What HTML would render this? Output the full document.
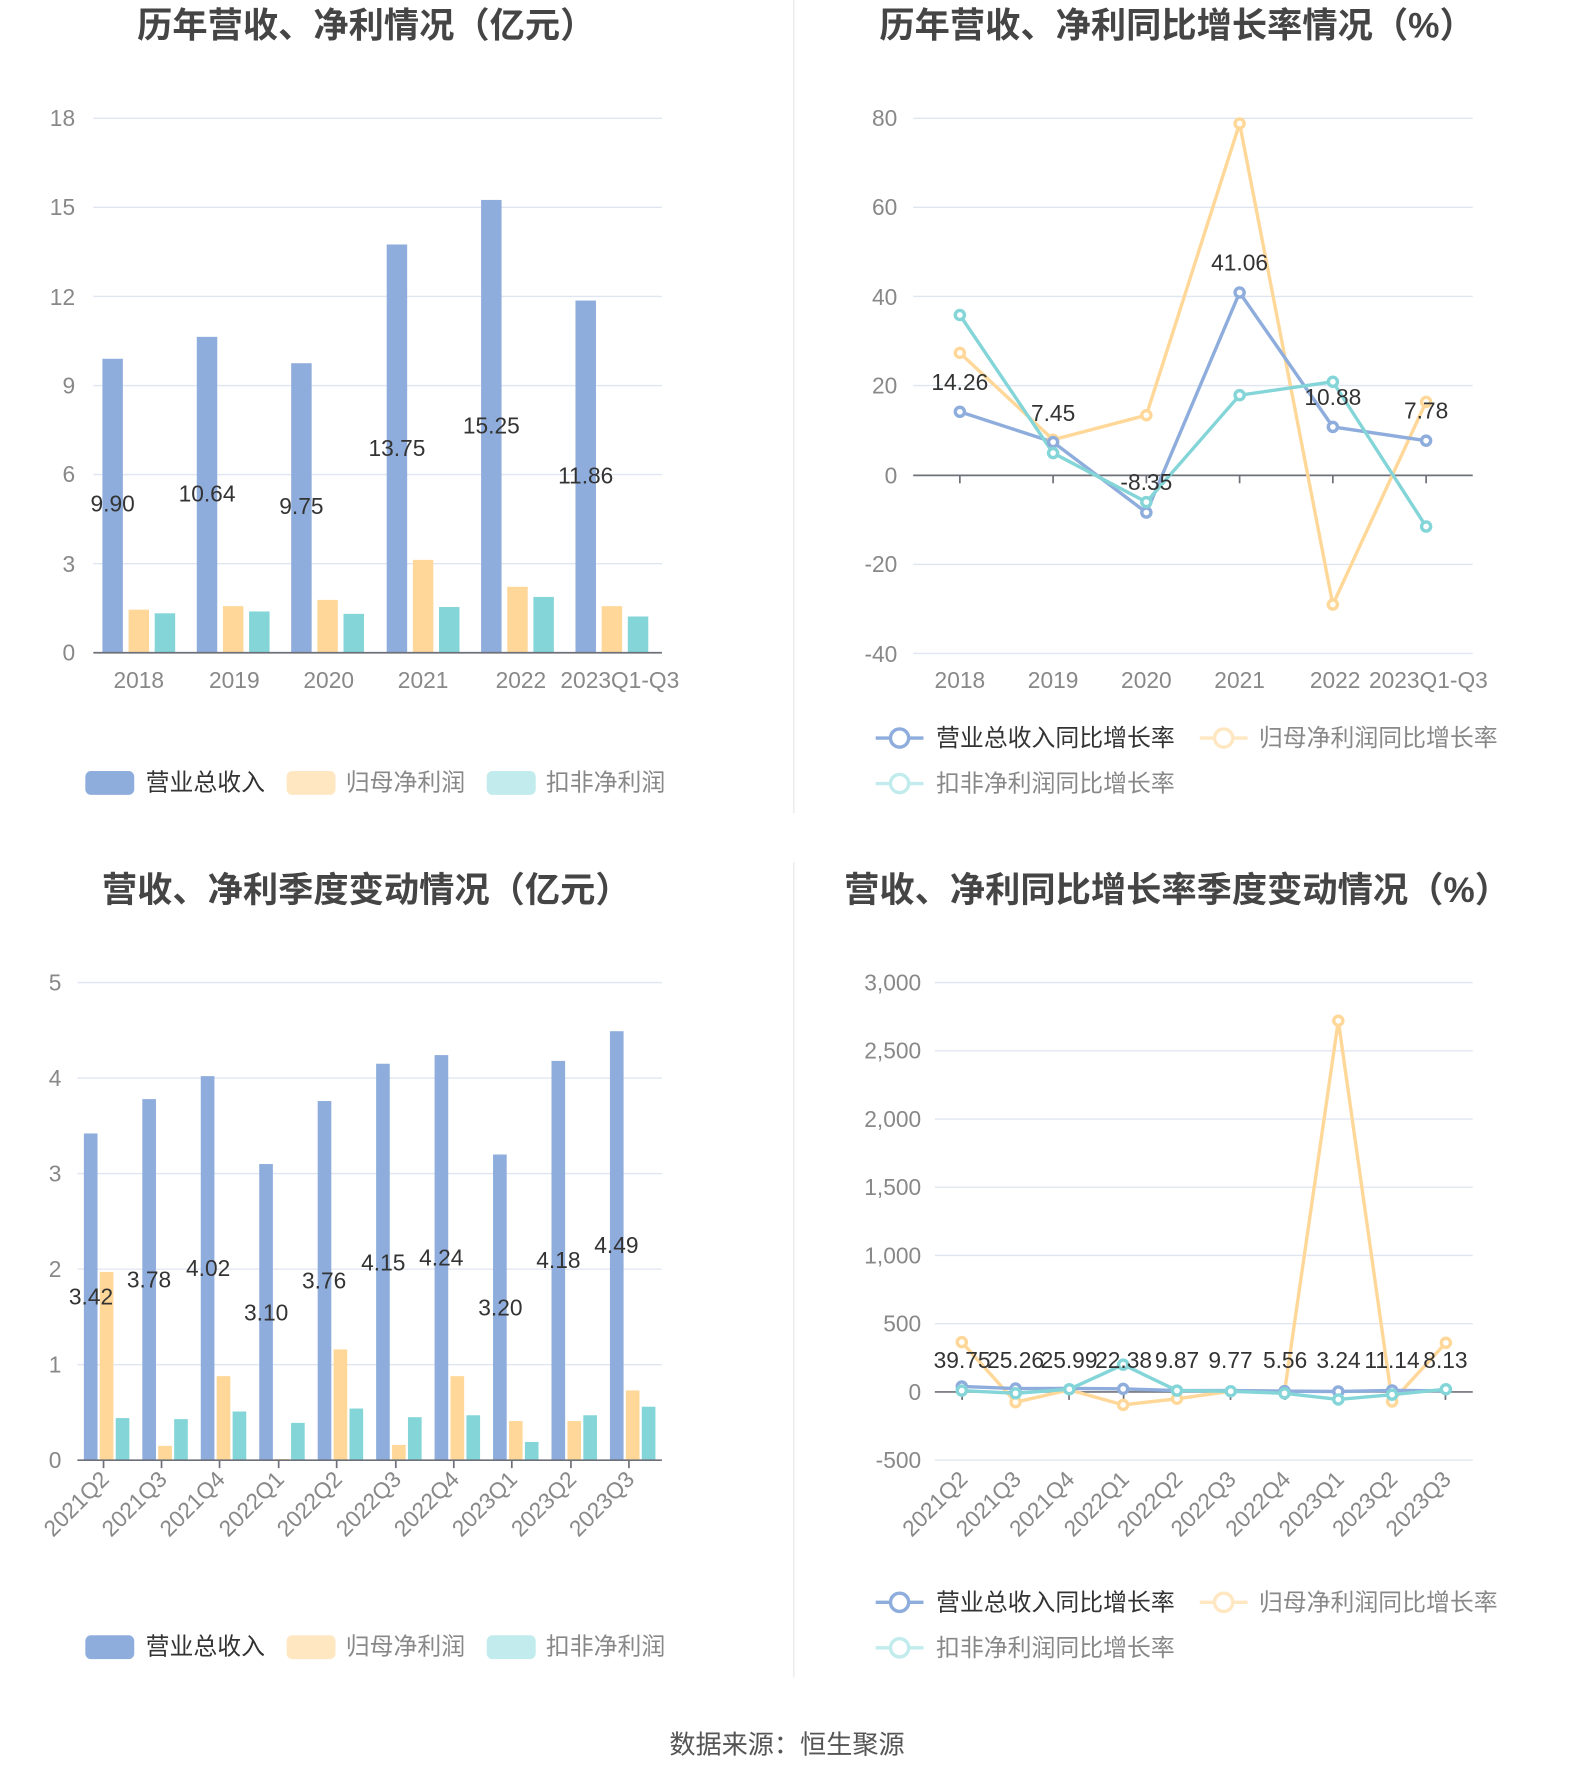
<!DOCTYPE html>
<html><head><meta charset="utf-8"><style>
html,body{margin:0;padding:0;background:#fff}
svg{display:block}
text{font-family:"Liberation Sans","Noto Sans CJK SC",sans-serif}
.t{font-size:31px;font-weight:bold;fill:#454545}
.ax{font-size:20px;fill:#888}
.v{font-size:20px;fill:#333}
.lg{font-size:21px;fill:#333}
.g{stroke:#e0e6f1;stroke-width:1.2}
.a{stroke:#6e7079;stroke-width:1.5}
</style></head><body>
<svg width="1574" height="1782" viewBox="0 0 1384 1567" xmlns="http://www.w3.org/2000/svg">
<rect width="1384" height="1567" fill="#fff"/>
<line x1="698" y1="0" x2="698" y2="715" stroke="#e6e6e6"/>
<line x1="698" y1="758" x2="698" y2="1475" stroke="#e6e6e6"/>

<!-- Chart 1 -->
<text class="t" x="322" y="33" text-anchor="middle">历年营收、净利情况（亿元）</text>
<g class="g"><line x1="82" y1="104" x2="582" y2="104"/><line x1="82" y1="182.3" x2="582" y2="182.3"/><line x1="82" y1="260.7" x2="582" y2="260.7"/><line x1="82" y1="339" x2="582" y2="339"/><line x1="82" y1="417.3" x2="582" y2="417.3"/><line x1="82" y1="495.7" x2="582" y2="495.7"/></g>
<g class="ax" text-anchor="end"><text x="66" y="111">18</text><text x="66" y="189">15</text><text x="66" y="268">12</text><text x="66" y="346">9</text><text x="66" y="424">6</text><text x="66" y="503">3</text><text x="66" y="581">0</text></g>
<g fill="#8eaddc"><rect x="90" y="315.5" width="18" height="258.5"/><rect x="173" y="296.2" width="18" height="277.8"/><rect x="256" y="319.4" width="18" height="254.6"/><rect x="340" y="215" width="18" height="359"/><rect x="423" y="175.8" width="18" height="398.2"/><rect x="506" y="264.3" width="18" height="309.7"/></g>
<g fill="#ffd899"><rect x="113" y="536.1" width="18" height="37.9"/><rect x="196" y="533" width="18" height="41"/><rect x="279" y="527.5" width="18" height="46.5"/><rect x="363" y="492.3" width="18" height="81.7"/><rect x="446" y="516" width="18" height="58"/><rect x="529" y="533" width="18" height="41"/></g>
<g fill="#84d5d8"><rect x="136" y="539.3" width="18" height="34.7"/><rect x="219" y="537.7" width="18" height="36.3"/><rect x="302" y="539.8" width="18" height="34.2"/><rect x="386" y="533.8" width="18" height="40.2"/><rect x="469" y="524.9" width="18" height="49.1"/><rect x="552" y="542.1" width="18" height="31.9"/></g>
<line class="a" x1="82" y1="574" x2="582" y2="574"/>
<g class="v" text-anchor="middle"><text x="99" y="450">9.90</text><text x="182" y="441">10.64</text><text x="265" y="452">9.75</text><text x="349" y="401">13.75</text><text x="432" y="381">15.25</text><text x="515" y="425">11.86</text></g>
<g class="ax" text-anchor="middle"><text x="122" y="605">2018</text><text x="206" y="605">2019</text><text x="289" y="605">2020</text><text x="372" y="605">2021</text><text x="458" y="605">2022</text><text x="545" y="605">2023Q1-Q3</text></g>
<rect x="75" y="678" width="43" height="21" rx="5" fill="#8eaddc"/><text class="lg" x="128" y="695">营业总收入</text>
<rect x="252" y="678" width="43" height="21" rx="5" fill="#ffe7c2"/><text class="lg" x="304" y="695" style="fill:#888">归母净利润</text>
<rect x="428" y="678" width="43" height="21" rx="5" fill="#c1ebec"/><text class="lg" x="480" y="695" style="fill:#888">扣非净利润</text>

<!-- Chart 2 -->
<text class="t" x="1035" y="33" text-anchor="middle">历年营收、净利同比增长率情况（%）</text>
<g class="g"><line x1="803" y1="104" x2="1295" y2="104"/><line x1="803" y1="182.3" x2="1295" y2="182.3"/><line x1="803" y1="260.7" x2="1295" y2="260.7"/><line x1="803" y1="339" x2="1295" y2="339"/><line x1="803" y1="496.3" x2="1295" y2="496.3"/><line x1="803" y1="574.6" x2="1295" y2="574.6"/></g>
<g class="ax" text-anchor="end"><text x="789" y="111">80</text><text x="789" y="189">60</text><text x="789" y="268">40</text><text x="789" y="346">20</text><text x="789" y="425">0</text><text x="789" y="503">-20</text><text x="789" y="582">-40</text></g>
<line class="a" x1="803" y1="418" x2="1295" y2="418"/>
<g class="a"><line x1="844" y1="418" x2="844" y2="425"/><line x1="926" y1="418" x2="926" y2="425"/><line x1="1008" y1="418" x2="1008" y2="425"/><line x1="1090" y1="418" x2="1090" y2="425"/><line x1="1172" y1="418" x2="1172" y2="425"/><line x1="1254" y1="418" x2="1254" y2="425"/></g>
<g fill="#fff" stroke-width="3">
<polyline fill="none" stroke="#ffd899" points="844,310.3 926,386.7 1008,365.1 1090,108.6 1172,531.6 1254,353.4"/>
<polyline fill="none" stroke="#8eaddc" points="844,362.1 926,388.8 1008,450.7 1090,257.2 1172,375.4 1254,387.5"/>
<polyline fill="none" stroke="#84d5d8" points="844,277 926,398.4 1008,441.5 1090,347.5 1172,335.7 1254,463"/>
<g stroke="#ffd899"><circle cx="844" cy="310.3" r="4"/><circle cx="926" cy="386.7" r="4"/><circle cx="1008" cy="365.1" r="4"/><circle cx="1090" cy="108.6" r="4"/><circle cx="1172" cy="531.6" r="4"/><circle cx="1254" cy="353.4" r="4"/></g>
<g stroke="#8eaddc"><circle cx="844" cy="362.1" r="4"/><circle cx="926" cy="388.8" r="4"/><circle cx="1008" cy="450.7" r="4"/><circle cx="1090" cy="257.2" r="4"/><circle cx="1172" cy="375.4" r="4"/><circle cx="1254" cy="387.5" r="4"/></g>
<g stroke="#84d5d8"><circle cx="844" cy="277" r="4"/><circle cx="926" cy="398.4" r="4"/><circle cx="1008" cy="441.5" r="4"/><circle cx="1090" cy="347.5" r="4"/><circle cx="1172" cy="335.7" r="4"/><circle cx="1254" cy="463" r="4"/></g>
</g>
<g class="v" text-anchor="middle"><text x="844" y="343">14.26</text><text x="926" y="370">7.45</text><text x="1008" y="431">-8.35</text><text x="1090" y="238">41.06</text><text x="1172" y="356">10.88</text><text x="1254" y="368">7.78</text></g>
<g class="ax" text-anchor="middle"><text x="844" y="605">2018</text><text x="926" y="605">2019</text><text x="1008" y="605">2020</text><text x="1090" y="605">2021</text><text x="1174" y="605">2022</text><text x="1256" y="605">2023Q1-Q3</text></g>
<g stroke-width="3" fill="#fff">
<line x1="770" y1="649" x2="812" y2="649" stroke="#8eaddc"/><circle cx="791" cy="649" r="8" stroke="#8eaddc"/>
<line x1="1055" y1="649" x2="1097" y2="649" stroke="#ffe7c2"/><circle cx="1076" cy="649" r="8" stroke="#ffe7c2"/>
<line x1="770" y1="689" x2="812" y2="689" stroke="#c1ebec"/><circle cx="791" cy="689" r="8" stroke="#c1ebec"/>
</g>
<text class="lg" x="823" y="656">营业总收入同比增长率</text><text class="lg" x="1107" y="656" style="fill:#888">归母净利润同比增长率</text><text class="lg" x="823" y="696" style="fill:#888">扣非净利润同比增长率</text>

<!-- Chart 3 -->
<text class="t" x="322" y="793" text-anchor="middle">营收、净利季度变动情况（亿元）</text>
<g class="g"><line x1="68" y1="864" x2="582" y2="864"/><line x1="68" y1="948" x2="582" y2="948"/><line x1="68" y1="1032" x2="582" y2="1032"/><line x1="68" y1="1116" x2="582" y2="1116"/><line x1="68" y1="1200" x2="582" y2="1200"/></g>
<g class="ax" text-anchor="end"><text x="54" y="871">5</text><text x="54" y="955">4</text><text x="54" y="1039">3</text><text x="54" y="1123">2</text><text x="54" y="1207">1</text><text x="54" y="1291">0</text></g>
<g fill="#8eaddc"><rect x="73.7" y="996.7" width="12" height="287.3"/><rect x="125.1" y="966.5" width="12" height="317.5"/><rect x="176.5" y="946.3" width="12" height="337.7"/><rect x="227.9" y="1023.6" width="12" height="260.4"/><rect x="279.3" y="968.2" width="12" height="315.8"/><rect x="330.7" y="935.4" width="12" height="348.6"/><rect x="382.1" y="927.8" width="12" height="356.2"/><rect x="433.5" y="1015.2" width="12" height="268.8"/><rect x="484.9" y="932.9" width="12" height="351.1"/><rect x="536.3" y="906.8" width="12" height="377.2"/></g>
<g fill="#ffd899"><rect x="87.7" y="1118.5" width="12" height="165.5"/><rect x="139.1" y="1271.4" width="12" height="12.6"/><rect x="190.5" y="1210.1" width="12" height="73.9"/><rect x="241.9" y="1283" width="12" height="1"/><rect x="293.3" y="1186.6" width="12" height="97.4"/><rect x="344.7" y="1270.6" width="12" height="13.4"/><rect x="396.1" y="1210.1" width="12" height="73.9"/><rect x="447.5" y="1249.6" width="12" height="34.4"/><rect x="498.9" y="1249.6" width="12" height="34.4"/><rect x="550.3" y="1222.7" width="12" height="61.3"/></g>
<g fill="#84d5d8"><rect x="101.7" y="1247" width="12" height="37"/><rect x="153.1" y="1247.9" width="12" height="36.1"/><rect x="204.5" y="1241.2" width="12" height="42.8"/><rect x="255.9" y="1251.2" width="12" height="32.8"/><rect x="307.3" y="1238.6" width="12" height="45.4"/><rect x="358.7" y="1246.2" width="12" height="37.8"/><rect x="410.1" y="1244.5" width="12" height="39.5"/><rect x="461.5" y="1268" width="12" height="16"/><rect x="512.9" y="1244.5" width="12" height="39.5"/><rect x="564.3" y="1237" width="12" height="47"/></g>
<line class="a" x1="68" y1="1284" x2="582" y2="1284"/>
<g class="a"><line x1="91" y1="1284" x2="91" y2="1291"/><line x1="142" y1="1284" x2="142" y2="1291"/><line x1="193" y1="1284" x2="193" y2="1291"/><line x1="245" y1="1284" x2="245" y2="1291"/><line x1="296" y1="1284" x2="296" y2="1291"/><line x1="348" y1="1284" x2="348" y2="1291"/><line x1="399" y1="1284" x2="399" y2="1291"/><line x1="450" y1="1284" x2="450" y2="1291"/><line x1="502" y1="1284" x2="502" y2="1291"/><line x1="553" y1="1284" x2="553" y2="1291"/></g>
<g class="v" text-anchor="middle"><text x="80" y="1147">3.42</text><text x="131" y="1132">3.78</text><text x="183" y="1122">4.02</text><text x="234" y="1161">3.10</text><text x="285" y="1133">3.76</text><text x="337" y="1117">4.15</text><text x="388" y="1113">4.24</text><text x="440" y="1157">3.20</text><text x="491" y="1115">4.18</text><text x="542" y="1102">4.49</text></g>
<g class="ax" text-anchor="end">
<text transform="translate(97,1302) rotate(-45)">2021Q2</text><text transform="translate(148,1302) rotate(-45)">2021Q3</text><text transform="translate(199,1302) rotate(-45)">2021Q4</text><text transform="translate(251,1302) rotate(-45)">2022Q1</text><text transform="translate(302,1302) rotate(-45)">2022Q2</text><text transform="translate(354,1302) rotate(-45)">2022Q3</text><text transform="translate(405,1302) rotate(-45)">2022Q4</text><text transform="translate(456,1302) rotate(-45)">2023Q1</text><text transform="translate(508,1302) rotate(-45)">2023Q2</text><text transform="translate(559,1302) rotate(-45)">2023Q3</text></g>
<rect x="75" y="1438" width="43" height="21" rx="5" fill="#8eaddc"/><text class="lg" x="128" y="1455">营业总收入</text>
<rect x="252" y="1438" width="43" height="21" rx="5" fill="#ffe7c2"/><text class="lg" x="304" y="1455" style="fill:#888">归母净利润</text>
<rect x="428" y="1438" width="43" height="21" rx="5" fill="#c1ebec"/><text class="lg" x="480" y="1455" style="fill:#888">扣非净利润</text>

<!-- Chart 4 -->
<text class="t" x="1035" y="793" text-anchor="middle">营收、净利同比增长率季度变动情况（%）</text>
<g class="g"><line x1="822" y1="864" x2="1295" y2="864"/><line x1="822" y1="924" x2="1295" y2="924"/><line x1="822" y1="984" x2="1295" y2="984"/><line x1="822" y1="1044" x2="1295" y2="1044"/><line x1="822" y1="1104" x2="1295" y2="1104"/><line x1="822" y1="1164" x2="1295" y2="1164"/><line x1="822" y1="1284" x2="1295" y2="1284"/></g>
<g class="ax" text-anchor="end"><text x="810" y="871">3,000</text><text x="810" y="931">2,500</text><text x="810" y="991">2,000</text><text x="810" y="1051">1,500</text><text x="810" y="1111">1,000</text><text x="810" y="1171">500</text><text x="810" y="1231">0</text><text x="810" y="1291">-500</text></g>
<line class="a" x1="822" y1="1224" x2="1295" y2="1224"/>
<g class="a"><line x1="846" y1="1224" x2="846" y2="1231"/><line x1="940" y1="1224" x2="940" y2="1231"/><line x1="1035" y1="1224" x2="1035" y2="1231"/><line x1="1130" y1="1224" x2="1130" y2="1231"/><line x1="1224" y1="1224" x2="1224" y2="1231"/><line x1="1271" y1="1224" x2="1271" y2="1231"/><line x1="893" y1="1224" x2="893" y2="1231"/><line x1="988" y1="1224" x2="988" y2="1231"/><line x1="1082" y1="1224" x2="1082" y2="1231"/><line x1="1177" y1="1224" x2="1177" y2="1231"/></g>
<g fill="#fff" stroke-width="3">
<polyline fill="none" stroke="#ffd899" points="845.7,1180.2 893,1233 940.3,1222.2 987.6,1235.4 1034.9,1230 1082.2,1223.4 1129.5,1224 1176.8,897.6 1224.1,1232.4 1271.4,1180.8"/>
<polyline fill="none" stroke="#8eaddc" points="845.7,1219.2 893,1221 940.3,1220.9 987.6,1221.3 1034.9,1222.8 1082.2,1222.8 1129.5,1223.3 1176.8,1223.6 1224.1,1222.7 1271.4,1223"/>
<polyline fill="none" stroke="#84d5d8" points="845.7,1222.8 893,1225.2 940.3,1221.6 987.6,1200 1034.9,1222.8 1082.2,1223.4 1129.5,1225.2 1176.8,1230.6 1224.1,1226.4 1271.4,1221.6"/>
<g stroke="#ffd899"><circle cx="845.7" cy="1180.2" r="4"/><circle cx="893" cy="1233" r="4"/><circle cx="987.6" cy="1235.4" r="4"/><circle cx="1034.9" cy="1230" r="4"/><circle cx="1176.8" cy="897.6" r="4"/><circle cx="1224.1" cy="1232.4" r="4"/><circle cx="1271.4" cy="1180.8" r="4"/></g>
<g stroke="#8eaddc"><circle cx="845.7" cy="1219.2" r="4"/><circle cx="893" cy="1221" r="4"/><circle cx="987.6" cy="1221.3" r="4"/><circle cx="1129.5" cy="1223.3" r="4"/><circle cx="1176.8" cy="1223.6" r="4"/><circle cx="1224.1" cy="1222.7" r="4"/></g>
<g stroke="#84d5d8"><circle cx="845.7" cy="1222.8" r="4"/><circle cx="893" cy="1225.2" r="4"/><circle cx="940.3" cy="1221.6" r="4"/><circle cx="987.6" cy="1200" r="4"/><circle cx="1034.9" cy="1222.8" r="4"/><circle cx="1082.2" cy="1223.4" r="4"/><circle cx="1129.5" cy="1225.2" r="4"/><circle cx="1176.8" cy="1230.6" r="4"/><circle cx="1224.1" cy="1226.4" r="4"/><circle cx="1271.4" cy="1221.6" r="4"/></g>
</g>
<g class="v" text-anchor="middle"><text x="846" y="1203">39.75</text><text x="893" y="1203">25.26</text><text x="940" y="1203">25.99</text><text x="988" y="1203">22.38</text><text x="1035" y="1203">9.87</text><text x="1082" y="1203">9.77</text><text x="1130" y="1203">5.56</text><text x="1177" y="1203">3.24</text><text x="1224" y="1203">11.14</text><text x="1271" y="1203">8.13</text></g>
<g class="ax" text-anchor="end">
<text transform="translate(852,1302) rotate(-45)">2021Q2</text><text transform="translate(899,1302) rotate(-45)">2021Q3</text><text transform="translate(946,1302) rotate(-45)">2021Q4</text><text transform="translate(994,1302) rotate(-45)">2022Q1</text><text transform="translate(1041,1302) rotate(-45)">2022Q2</text><text transform="translate(1088,1302) rotate(-45)">2022Q3</text><text transform="translate(1136,1302) rotate(-45)">2022Q4</text><text transform="translate(1183,1302) rotate(-45)">2023Q1</text><text transform="translate(1230,1302) rotate(-45)">2023Q2</text><text transform="translate(1277,1302) rotate(-45)">2023Q3</text></g>
<g stroke-width="3" fill="#fff">
<line x1="770" y1="1409" x2="812" y2="1409" stroke="#8eaddc"/><circle cx="791" cy="1409" r="8" stroke="#8eaddc"/>
<line x1="1055" y1="1409" x2="1097" y2="1409" stroke="#ffe7c2"/><circle cx="1076" cy="1409" r="8" stroke="#ffe7c2"/>
<line x1="770" y1="1449" x2="812" y2="1449" stroke="#c1ebec"/><circle cx="791" cy="1449" r="8" stroke="#c1ebec"/>
</g>
<text class="lg" x="823" y="1416">营业总收入同比增长率</text><text class="lg" x="1107" y="1416" style="fill:#888">归母净利润同比增长率</text><text class="lg" x="823" y="1456" style="fill:#888">扣非净利润同比增长率</text>

<text x="692" y="1542" text-anchor="middle" style="font-size:23px;fill:#555">数据来源：恒生聚源</text>
</svg>
</body></html>
